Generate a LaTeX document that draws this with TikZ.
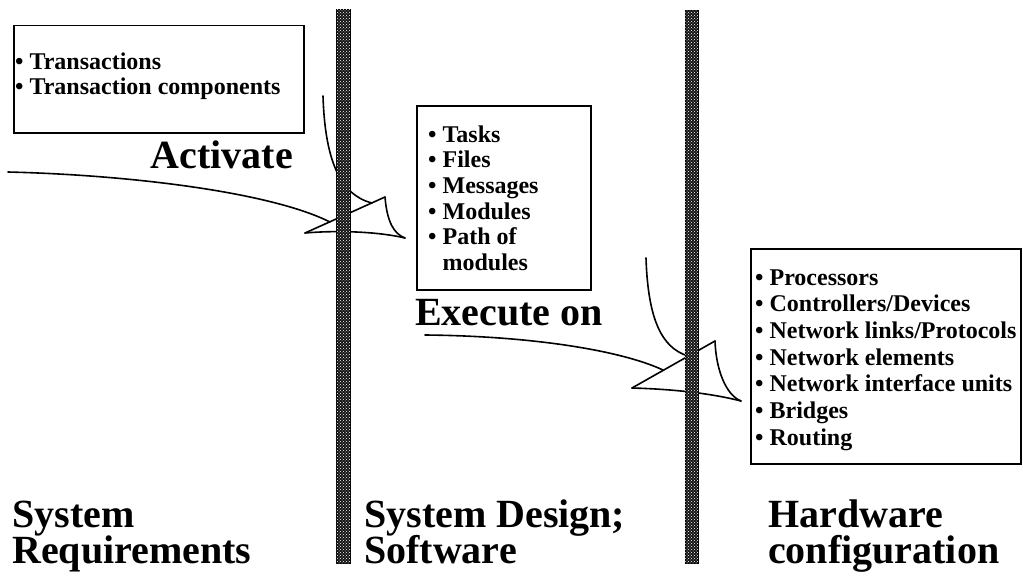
\documentclass[tikz,border=0pt]{standalone}
\usepackage{fontspec}
\setmainfont{Liberation Serif}
\usetikzlibrary{patterns}

\begin{document}
\begin{tikzpicture}[x=1pt, y=-1pt,
  frame/.style={draw, line width=1.5pt, inner sep=0pt, anchor=north west},
  item/.style={anchor=base west, inner sep=0pt, font=\fontsize{24}{26}\selectfont\bfseries},
  verb/.style={anchor=base west, inner sep=0pt, font=\fontsize{40}{42}\selectfont\bfseries},
  side/.style={anchor=base west, inner sep=0pt, font=\fontsize{40}{42}\selectfont\bfseries},
  bar/.style={anchor=north west, inner sep=0pt, draw=black, line width=0.6pt, fill=black!92,
    postaction={pattern=crosshatch dots, pattern color=white!30}},
  hand/.style={line width=1.6pt, line cap=round, line join=round}]

\useasboundingbox (0,0) rectangle (1023,578);

% ---- boxes -------------------------------------------------------------
\node[frame, minimum width=290pt, minimum height=107pt] (req) at (13,25) {};
\node[frame, minimum width=174pt, minimum height=184pt] (sw)  at (416,105) {};
\node[frame, minimum width=270pt, minimum height=215pt] (hw)  at (750,248) {};

% ---- box contents --------------------------------------------------------
\node[item] (r1) at (15,70) {• Transactions};
\node[item] (r2) at (15,94.5) {• Transaction components};

\foreach \t [count=\i] in {Tasks, Files, Messages, Modules, Path of}
  \node[item] (s\i) at (428,{142+25.7*(\i-1)}) {• \t};
\node[item] (s6) at (428,270.5) {\phantom{• }modules};

\foreach \t [count=\i] in {Processors, Controllers/Devices, Network links/Protocols,
    Network elements, Network interface units, Bridges, Routing}
  \node[item] (h\i) at (755,{285+26.7*(\i-1)}) {• \t};

% ---- verbs ---------------------------------------------------------------
\node[verb, anchor=base east] (act) at (293,168) {Activate};
\node[verb] (exe) at (415,325) {Execute on};

% ---- hand-drawn flows into the first wall ----------------------------------
\coordinate (a1tip) at (305,233);
\coordinate (a1top) at (385,197);
\coordinate (a1end) at (405,238);
\coordinate (a1in)  at (330,222);
\coordinate (a1src) at (8,172);
\coordinate (a1up)  at (323,96);
\coordinate (a1join) at (372,203);
\draw[hand] (a1src) .. controls (130,175) and (270,192) .. (a1in);
\draw[hand] (a1up) .. controls (325,160) and (340,195) .. (a1join);
\draw[hand] (a1tip) -- (a1top);
\draw[hand] (a1top) .. controls (387,222) and (394,234) .. (a1end);
\draw[hand] (a1tip) .. controls (340,230) and (380,232) .. (a1end);

% ---- hand-drawn flows into the second wall ---------------------------------
\coordinate (a2tip) at (632,388);
\coordinate (a2top) at (715,341);
\coordinate (a2end) at (741,401);
\coordinate (a2in)  at (663,370);
\coordinate (a2src) at (425,335);
\coordinate (a2up)  at (646,258);
\coordinate (a2join) at (688,356);
\draw[hand] (a2src) .. controls (530,336) and (620,350) .. (a2in);
\draw[hand] (a2up) .. controls (648,320) and (662,348) .. (a2join);
\draw[hand] (a2tip) -- (a2top);
\draw[hand] (a2top) .. controls (716,370) and (726,395) .. (a2end);
\draw[hand] (a2tip) .. controls (670,389) and (710,393) .. (a2end);

% ---- walls ---------------------------------------------------------------
\node[bar, minimum width=14pt, minimum height=554pt] (wall1) at (336,9) {};
\node[bar, minimum width=13pt, minimum height=553pt] (wall2) at (685,10) {};

% ---- layer names -----------------------------------------------------------
\node[side] (l1a) at (12,527) {System};
\node[side] (l1b) at (12,563) {Requirements};
\node[side] (l2a) at (364,527) {System Design;};
\node[side] (l2b) at (364,563) {Software};
\node[side] (l3a) at (768,527) {Hardware};
\node[side] (l3b) at (768,563) {configuration};
\end{tikzpicture}
\end{document}
